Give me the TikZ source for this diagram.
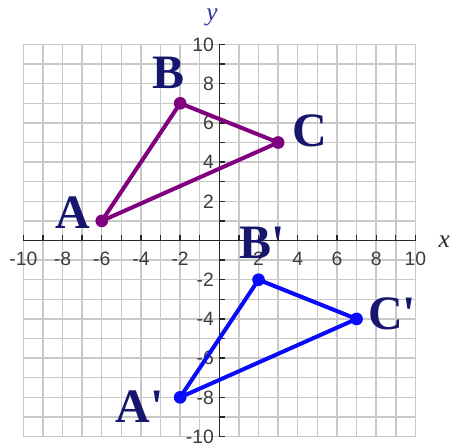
\documentclass[tikz,border=0pt]{standalone}
\usepackage{fontspec}
\newfontfamily\labfont{Liberation Serif}
\newfontfamily\numfont{Liberation Sans}
\definecolor{gridgray}{RGB}{200,200,200}
\definecolor{axisgray}{RGB}{40,40,40}
\definecolor{numgray}{RGB}{60,60,60}
\definecolor{navy}{RGB}{22,22,110}
\definecolor{ylab}{RGB}{50,50,160}
\definecolor{purp}{RGB}{128,0,128}
\definecolor{blu}{RGB}{10,10,250}
\tikzset{
  gridline/.style={draw=gridgray, line width=1.1pt},
  axisline/.style={draw=axisgray, line width=1.2pt},
  numlab/.style={font=\numfont\fontsize{14.5}{15}\selectfont, text=numgray, inner sep=0pt},
  ptlab/.style={font=\labfont\bfseries\fontsize{36}{38}\selectfont, text=navy, inner sep=0pt, anchor=center},
  axlab/.style={font=\labfont\itshape\fontsize{19}{20}\selectfont, inner sep=0pt},
  tri1/.style={draw=purp, line width=3pt, line join=round},
  tri2/.style={draw=blu, line width=3pt, line join=round},
  dot/.style={circle, inner sep=0pt, minimum size=9.5pt},
}
\begin{document}
\begin{tikzpicture}[x=14.7pt,y=14.7pt]
\useasboundingbox (-11.19,-10.43) rectangle (11.97,12.27);
\fill[white] (-11.19,-10.43) rectangle (11.97,12.27);
% grid
\foreach \i in {-10,...,10} {
  \draw[gridline] (\i,-10) -- (\i,10);
  \draw[gridline] (-10,\i) -- (10,\i);
}
% axes
\coordinate (xl) at (-10,0);
\coordinate (xr) at (10,0);
\coordinate (yb) at (0,-10);
\coordinate (yt) at (0,10);
\draw[axisline] (xl) -- (xr);
\draw[axisline] (yb) -- (yt);
\foreach \i in {-10,...,10} {
  \draw[axisline, line width=1pt] (\i,0) -- (\i,0.27);
  \draw[axisline, line width=1pt] (0,\i) -- (0.27,\i);
}
% axis numbers
\foreach \v in {-10,-8,-6,-4,-2,2,4,6,8,10} {
  \node[numlab] (xn\v) at (\v,-0.94) {\v};
  \node[numlab, anchor=east] (yn\v) at (-0.27,\v) {\v};
}
% axis labels
\node[axlab, text=ylab] (ylabel) at (-0.37,11.4) {y};
\node[axlab, text=axisgray] (xlabel) at (11.47,-0.08) {x};
% original triangle
\coordinate (A) at (-6,1);
\coordinate (B) at (-2,7);
\coordinate (C) at (3,5);
\draw[tri1] (A) -- (B) -- (C) -- cycle;
\foreach \p in {A,B,C} \node[dot, fill=purp] (d\p) at (\p) {};
% image triangle
\coordinate (A2) at (-2,-8);
\coordinate (B2) at (2,-2);
\coordinate (C2) at (7,-4);
\draw[tri2] (A2) -- (B2) -- (C2) -- cycle;
\foreach \p in {A2,B2,C2} \node[dot, fill=blu] (d\p) at (\p) {};
% point labels
\node[ptlab] (lA) at (-7.49,1.43) {A};
\node[ptlab] (lB) at (-2.57,8.57) {B};
\node[ptlab] (lC) at (4.63,5.60) {C};
\node[ptlab] (lA2) at (-4.05,-8.49) {A'};
\node[ptlab] (lB2) at (2.18,-0.13) {B'};
\node[ptlab] (lC2) at (8.81,-3.75) {C'};
\end{tikzpicture}
\end{document}
